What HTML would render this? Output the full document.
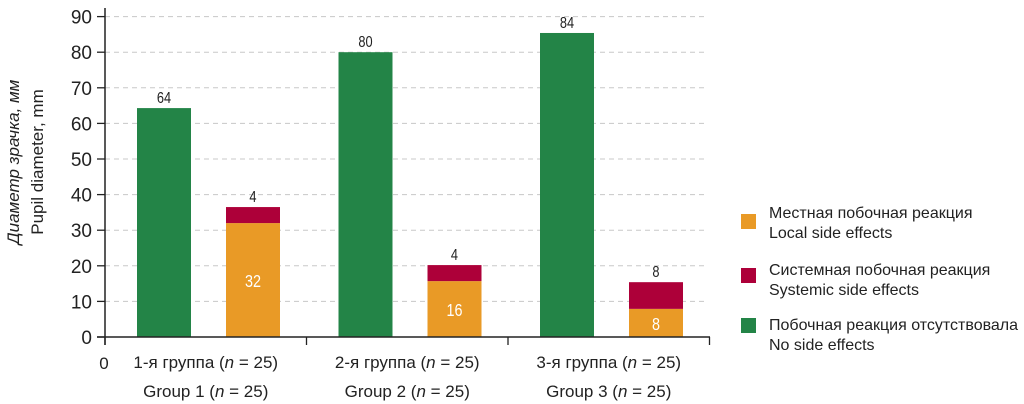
<!DOCTYPE html>
<html><head><meta charset="utf-8"><style>
body{margin:0;background:#fff;}
svg{display:block;font-family:"Liberation Sans",sans-serif;}
</style></head><body>
<svg id="chart" width="1024" height="404" viewBox="0 0 1024 404">
<g id="grid"></g>
<g id="bars"></g>
<g id="axes"></g>
<g font-size="17" fill="#222">
<text transform="translate(19,162) rotate(-90)" text-anchor="middle" font-style="italic">Диаметр зрачка, мм</text>
<text transform="translate(43,162) rotate(-90)" text-anchor="middle">Pupil diameter, mm</text>
</g>
<g font-size="16" fill="#222">
<g><rect x="741" y="214" width="15" height="15" fill="#E99A26"/><text x="769" y="218">Местная побочная реакция</text><text x="769" y="238">Local side effects</text></g>
<g><rect x="741" y="268" width="15" height="15" fill="#AD0039"/><text x="769" y="275">Системная побочная реакция</text><text x="769" y="295">Systemic side effects</text></g>
<g><rect x="741" y="318" width="15" height="15" fill="#238447"/><text x="769" y="330">Побочная реакция отсутствовала</text><text x="769" y="350">No side effects</text></g>
</g>
</svg>
<script>
const groupsRu = ["1-я группа", "2-я группа", "3-я группа"];
const groupsEn = ["Group 1", "Group 2", "Group 3"];
const noEffects = [64.3, 80, 85.4];
const localEffects = [32, 15.7, 7.9];
const systemicEffects = [4.5, 4.5, 7.5];
const noEffectsLabels = ["64", "80", "84"];
const localLabels = ["32", "16", "8"];
const systemicLabels = ["4", "4", "8"];
const yTicks = [0,10,20,30,40,50,60,70,80,90];

const NS="http://www.w3.org/2000/svg";
const y0=337, pxPerUnit=3.56, xAxis0=105, groupW=201.5;
const Y=v=>y0-v*pxPerUnit;
const GX=i=>xAxis0+i*groupW;
function mk(tag,attrs,parent,txt){const e=document.createElementNS(NS,tag);for(const k in attrs)e.setAttribute(k,attrs[k]);if(txt!==undefined)e.textContent=txt;parent.appendChild(e);return e;}
const grid=document.getElementById('grid'),bars=document.getElementById('bars'),axes=document.getElementById('axes');
yTicks.forEach(t=>{
  if(t>0){const l=mk('line',{x1:xAxis0,x2:708,y1:Y(t),y2:Y(t),stroke:'#c8c8c8','stroke-dasharray':'5,4','stroke-width':1},grid);
  
  }
  const tx=mk('text',{x:92,y:Y(t)+7,'text-anchor':'end','font-size':19,fill:'#222'},axes,String(t));
  
  
  const tk=mk('line',{x1:97,x2:105,y1:Y(t),y2:Y(t),stroke:'#222','stroke-width':1.3},axes);
  
  
});
function narrow(el,cx,cy){el.setAttribute('transform','translate('+cx+','+cy+') scale(0.8,1) translate('+(-cx)+','+(-cy)+')');}
groupsRu.forEach((g,i)=>{
  const gx=GX(i);
  const b1=mk('rect',{x:gx+32,y:Y(noEffects[i]),width:54,height:noEffects[i]*pxPerUnit,fill:'#238447'},bars);
  
  
  const l1=mk('text',{x:gx+59,y:Y(noEffects[i])-5,'text-anchor':'middle','font-size':16,fill:'#222'},bars,noEffectsLabels[i]);
  
  
  narrow(l1,gx+59,0);
  const b2=mk('rect',{x:gx+121,y:Y(localEffects[i]),width:54,height:localEffects[i]*pxPerUnit,fill:'#E99A26'},bars);
  
  
  const top=localEffects[i]+systemicEffects[i];
  const b3=mk('rect',{x:gx+121,y:Y(top),width:54,height:systemicEffects[i]*pxPerUnit,fill:'#AD0039'},bars);
  
  
  const l2=mk('text',{x:gx+148,y:Y(localEffects[i]/2)+7,'text-anchor':'middle','font-size':18,fill:'#fff'},bars,localLabels[i]);
  
  
  narrow(l2,gx+148,0);
  const l3=mk('text',{x:gx+148,y:Y(top)-5,'text-anchor':'middle','font-size':16,fill:'#222'},bars,systemicLabels[i]);
  
  
  narrow(l3,gx+148,0);
  const c=gx+groupW/2;
  const t1=mk('text',{x:c,y:368,'text-anchor':'middle','font-size':17,fill:'#222'},axes);
  
  
  t1.innerHTML=g+' (<tspan font-style="italic">n</tspan> = 25)';
  const t2=mk('text',{x:c,y:397,'text-anchor':'middle','font-size':17,fill:'#222'},axes);
  
  
  t2.innerHTML=groupsEn[i]+' (<tspan font-style="italic">n</tspan> = 25)';
});
for(let i=0;i<=3;i++){const tk=mk('line',{x1:GX(i),x2:GX(i),y1:337,y2:345,stroke:'#222','stroke-width':1.3},axes);

}
const xa=mk('line',{x1:97,x2:710,y1:337,y2:337,stroke:'#222','stroke-width':1.5},axes);


const ya=mk('line',{x1:105,x2:105,y1:8,y2:345,stroke:'#222','stroke-width':1.5},axes);


const z=mk('text',{x:104,y:369,'text-anchor':'middle','font-size':17,fill:'#222'},axes,'0');


</script>
</body></html>
